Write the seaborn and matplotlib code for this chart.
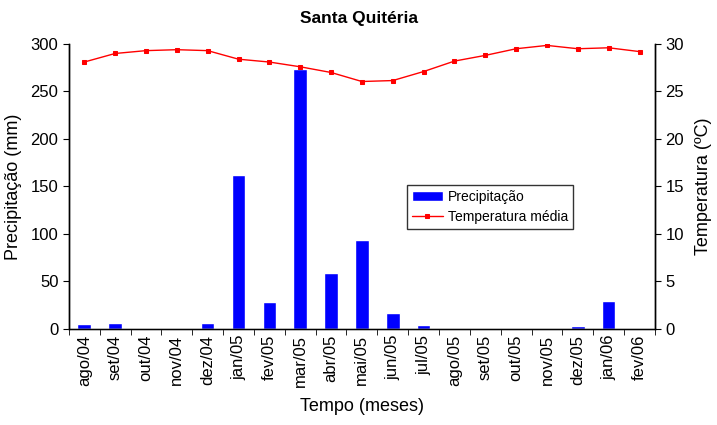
import numpy as np
import pandas as pd
import matplotlib
matplotlib.use("Agg")
import matplotlib.pyplot as plt
import seaborn as sns
from matplotlib.ticker import FixedLocator

months = ["ago/04", "set/04", "out/04", "nov/04", "dez/04", "jan/05", "fev/05",
          "mar/05", "abr/05", "mai/05", "jun/05", "jul/05", "ago/05", "set/05",
          "out/05", "nov/05", "dez/05", "jan/06", "fev/06"]
precip = [5, 6, 0, 0, 6, 162, 28, 274, 59, 94, 17, 4, 0, 0, 0, 0, 3, 29, 0]
temp = [28.1, 29.0, 29.3, 29.4, 29.3, 28.4, 28.1, 27.6, 27.0, 26.05, 26.15, 27.1,
        28.2, 28.8, 29.5, 29.85, 29.5, 29.6, 29.2]

df = pd.DataFrame({"Mes": months, "Precipitação": precip, "Temperatura": temp})

sns.set_style("white")
plt.rcParams["font.family"] = ["Liberation Sans", "DejaVu Sans"]
plt.rcParams["text.color"] = "black"
plt.rcParams["axes.labelcolor"] = "black"
plt.rcParams["xtick.color"] = "black"
plt.rcParams["ytick.color"] = "black"

fig = plt.figure(figsize=(7.17, 4.25), dpi=100)
ax = fig.add_axes([0.096, 0.226, 0.8175, 0.6705])

sns.barplot(data=df, x="Mes", y="Precipitação", color="#0000FF", saturation=1,
            width=0.44, ax=ax, label="Precipitação")
if ax.get_legend() is not None:
    ax.get_legend().remove()
ax.set_ylim(0, 300)
ax.set_xlim(-0.5, len(months) - 0.5)
ax.set_yticks([0, 50, 100, 150, 200, 250, 300])
ax.set_ylabel("Precipitação (mm)", fontsize=13, labelpad=6)
ax.set_xlabel("Tempo (meses)", fontsize=13, labelpad=8)
ax.tick_params(axis="y", labelsize=12, length=4, direction="out", left=True)
ax.tick_params(axis="x", which="major", labelsize=12, length=0, rotation=90, pad=4)
ax.xaxis.set_minor_locator(FixedLocator(np.arange(-0.5, len(months), 1)))
ax.tick_params(axis="x", which="minor", length=4, direction="out", bottom=True)

ax2 = ax.twinx()
sns.lineplot(x=np.arange(len(months)), y=df["Temperatura"], ax=ax2, color="#FF0000",
             marker="s", markersize=3.5, markeredgecolor="#FF0000", linewidth=1,
             label="Temperatura média", legend=False)
ax2.set_ylim(0, 30)
ax2.set_yticks([0, 5, 10, 15, 20, 25, 30])
ax2.set_ylabel("Temperatura (ºC)", fontsize=13, labelpad=8)
ax2.tick_params(axis="y", labelsize=12, length=4, direction="out", right=True)

for a in (ax, ax2):
    a.spines["top"].set_visible(False)
    for s in ("left", "right", "bottom"):
        a.spines[s].set_color("black")
        a.spines[s].set_linewidth(1)
ax.spines["bottom"].set_color("#808080")

h1, l1 = ax.get_legend_handles_labels()
h2, l2 = ax2.get_legend_handles_labels()
leg = fig.legend(h1[:1] + h2, l1[:1] + l2, loc="upper left", bbox_to_anchor=(0.568, 0.565),
                 fontsize=10, frameon=True, fancybox=False, edgecolor="black",
                 borderpad=0.35, handlelength=2.2, handletextpad=0.4, labelspacing=0.45,
                 borderaxespad=0)
leg.get_frame().set_linewidth(1)

fig.suptitle("Santa Quitéria", fontsize=12.5, fontweight="bold", y=0.975)

fig.savefig("out.png", dpi=100)
